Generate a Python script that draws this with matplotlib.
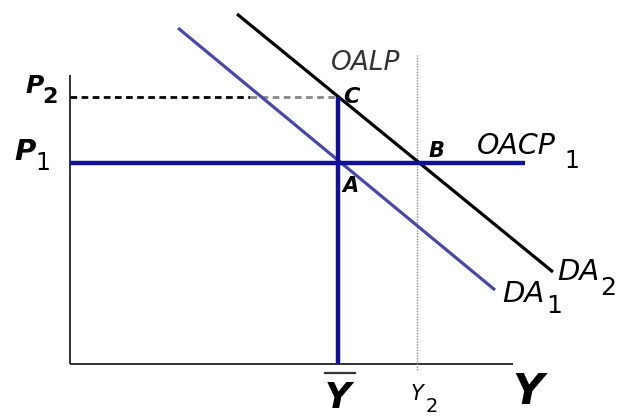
import matplotlib
matplotlib.use("Agg")
import matplotlib.pyplot as plt

# Economic coordinates (output Y horizontally, price level P vertically)
y_axis_max = 443
p_axis_max = 289
P1 = 201
P2 = 267
Y_bar = 268
Y2 = 347
Y2_top = 309
DA1_Y = [108, 425]
DA1_P = [336, 74]
DA2_Y = [167, 483]
DA2_P = [350, 92]
OACP_end = 455

fig = plt.figure(figsize=(6.31, 4.17), dpi=100)
ax = fig.add_axes([0, 0, 1, 1])
ax.set_xlim(-70, 561)
ax.set_ylim(-53, 364)
ax.axis("off")

navy = "#10109a"
purple = "#4848a8"

# axes
ax.plot([0, 0], [0, p_axis_max], color="#222222", lw=1.3, solid_capstyle="butt")
ax.plot([0, y_axis_max], [0, 0], color="#222222", lw=1.3, solid_capstyle="butt")

# Y2 dotted line
ax.plot([Y2, Y2], [-6, Y2_top], color="#888888", lw=1.0, ls=(0, (1, 1)))

# P2 dashed line
ax.plot([0, 180], [P2, P2], color="black", lw=2.0, ls=(0, (2.4, 1.6)))
ax.plot([180, Y_bar], [P2, P2], color="#888888", lw=2.0, ls=(0, (2.4, 1.6)))

# DA curves
ax.plot(DA1_Y, DA1_P, color=purple, lw=2.3, solid_capstyle="butt")
ax.plot(DA2_Y, DA2_P, color="black", lw=2.3, solid_capstyle="butt")

# OACP1 and OALP (Y bar)
ax.plot([0, OACP_end], [P1, P1], color=navy, lw=3.2, solid_capstyle="butt")
ax.plot([Y_bar, Y_bar], [0, P2], color=navy, lw=3.2, solid_capstyle="butt")

fam = "DejaVu Sans"
def lab(x, y, s, size, weight="normal", style="italic", color="black", ha="left", va="baseline"):
    ax.text(x, y, s, fontsize=size, fontweight=weight, fontstyle=style,
            color=color, ha=ha, va=va, family=fam)

# P labels
lab(-45, 271, "P", 18, weight="bold")
lab(-28, 261, "2", 16, weight="bold", style="normal")
lab(-56, 204, "P", 21, weight="bold")
lab(-35, 194, "1", 17, style="normal")

lab(261, 294, "OALP", 19, color="#333333")
lab(273, 261, "C", 16, weight="bold")
lab(359, 207, "B", 15, weight="bold")
lab(407, 210, "OACP", 20.5)
lab(494, 196, "1", 17, style="normal")
lab(272, 172, "A", 15, weight="bold")

lab(432, 62, "DA", 21)
lab(476, 51, "1", 18, style="normal")
lab(487, 84, "DA", 21)
lab(530, 69, "2", 18, style="normal")

# horizontal axis labels
lab(255, -44, "Y", 26, weight="bold")
ax.plot([Y_bar - 13, Y_bar + 17], [-9, -9], color="#333333", lw=1.6)
lab(341, -36, "Y", 15)
lab(356, -48, "2", 14, style="normal")
lab(442, -40, "Y", 31, weight="bold")

fig.savefig("out.png", dpi=100)
